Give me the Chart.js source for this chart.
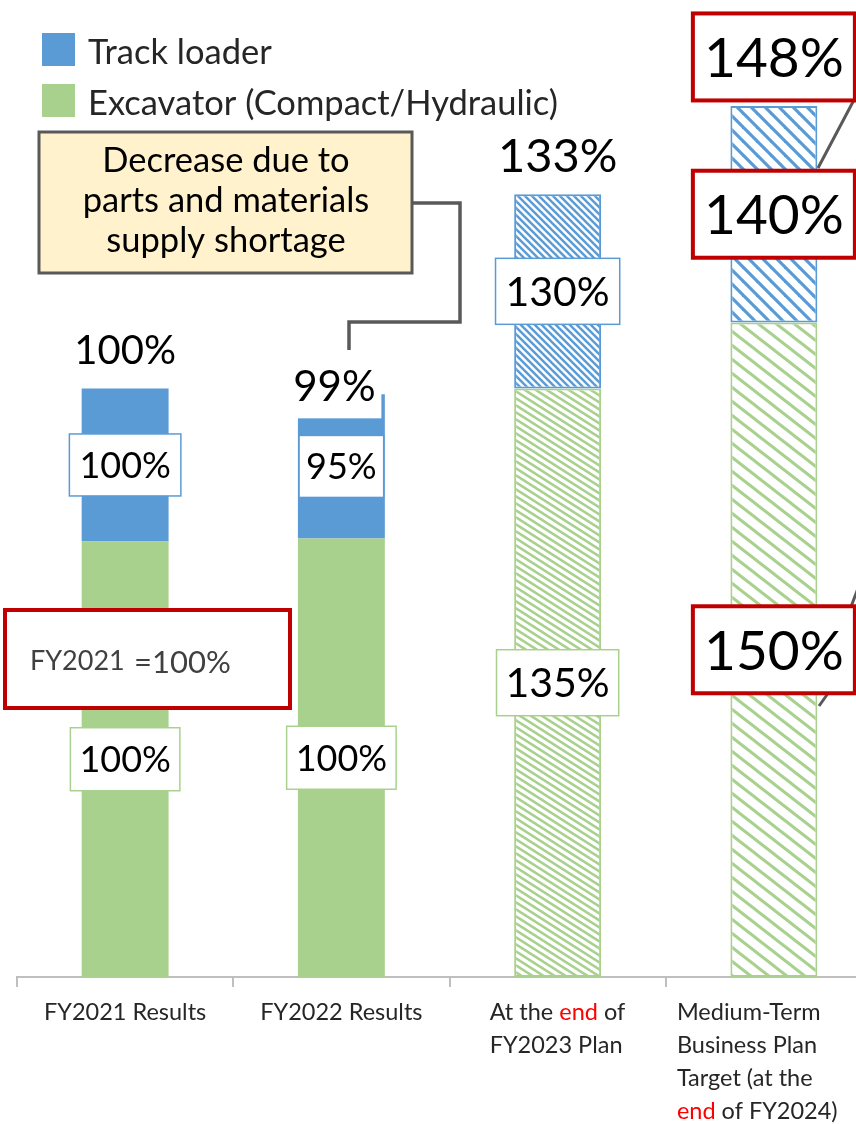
<!DOCTYPE html>
<html>
<head>
<meta charset="utf-8">
<script src="https://cdn.jsdelivr.net/npm/chart.js@4.4.1/dist/chart.umd.min.js"></script>
<style>
  html, body { margin: 0; padding: 0; background: #fff; overflow: hidden; }
  #wrap { width: 856px; height: 1124px; overflow: hidden; }
</style>
</head>
<body>
<div id="wrap"><canvas id="sales" width="882" height="1124"></canvas></div>
<script>
// categories (one entry per line of the axis label)
const categories = [
  ['FY2021 Results'],
  ['FY2022 Results'],
  ['At the end of', 'FY2023 Plan'],
  ['Medium-Term', 'Business Plan', 'Target (at the', 'end of FY2024)']
];
const seriesNames = ['Track loader', 'Excavator (Compact/Hydraulic)'];

// unit index, FY2021 total = 100
const excavator   = [74, 74.5, 100, 111.2];
const trackLoader = [26, 24.5, 33, 36.8];

// growth vs FY2021 for each product
const excavatorGrowth   = ['100%', '100%', '135%', '150%'];
const trackLoaderGrowth = ['100%', '95%', '130%', '140%'];

const BLUE = '#5B9BD5';
const GREEN = '#A9D18E';
const RED = '#C00000';
const LINE = '#595959';
const FONT = 'Lato, "Open Sans", sans-serif';

const canvas = document.getElementById('sales');
const ctx = canvas.getContext('2d');

// diagonal stripes for the plan bars (tile w x h, one stripe per tile)
function hatch(color, w, h, width) {
  const c = document.createElement('canvas');
  c.width = w; c.height = h;
  const g = c.getContext('2d');
  g.fillStyle = '#fff';
  g.fillRect(0, 0, w, h);
  g.strokeStyle = color;
  g.lineWidth = width;
  const k = h / w;
  for (const o of [-w, 0, w]) {
    g.beginPath();
    g.moveTo(o - 2, -2 * k);
    g.lineTo(o + w + 2, h + 2 * k);
    g.stroke();
  }
  return ctx.createPattern(c, 'repeat');
}

function font(size) { return size + 'px ' + FONT; }

// text centred on (cx, cy) using the digit height
function centerText(c, text, cx, cy, size, color) {
  c.font = font(size);
  c.fillStyle = color || '#000';
  c.textAlign = 'center';
  c.textBaseline = 'alphabetic';
  c.fillText(text, cx, cy + size * 0.36);
}

function labelBox(c, text, cx, cy, size, opts) {
  c.font = font(size);
  const w = opts.w || c.measureText(text).width + 2 * (opts.pad || 10);
  const h = opts.h || 64;
  c.fillStyle = '#fff';
  c.fillRect(cx - w / 2, cy - h / 2, w, h);
  if (opts.stroke) {
    c.strokeStyle = opts.stroke;
    c.lineWidth = opts.lw || 1.5;
    c.strokeRect(cx - w / 2, cy - h / 2, w, h);
  }
  centerText(c, text, cx, cy, size);
}

const annotations = {
  id: 'annotations',
  afterDatasetsDraw(chart) {
    const c = chart.ctx;
    const green = chart.getDatasetMeta(0).data;
    const blue = chart.getDatasetMeta(1).data;
    c.save();

    // leader lines from the medium-term callouts
    c.strokeStyle = LINE;
    c.lineWidth = 3;
    c.beginPath();
    c.moveTo(855, 98); c.lineTo(818, 168);
    c.moveTo(819, 706); c.lineTo(866, 640);
    c.moveTo(849, 612); c.lineTo(865, 570);
    c.stroke();

    const segSize = [36, 36, 41, 55];
    for (let i = 0; i < categories.length; i++) {
      const x = blue[i].x;
      const total = Math.round(excavator[i] + trackLoader[i]) + '%';
      const top = blue[i].y;
      const gMid = (green[i].y + green[i].base) / 2;
      const bMid = (blue[i].y + blue[i].base) / 2;

      if (i < 3) {
        labelBox(c, trackLoaderGrowth[i], x, bMid, segSize[i], { stroke: BLUE, pad: i === 1 ? 7 : 10, h: i === 2 ? 66 : 62 });
        labelBox(c, excavatorGrowth[i], x, gMid, segSize[i], { stroke: GREEN, pad: 9, h: i === 2 ? 66 : 63 });
      } else {
        labelBox(c, trackLoaderGrowth[i], x, bMid, segSize[i], { stroke: RED, lw: 4, w: 162, h: 87 });
        labelBox(c, excavatorGrowth[i], x, gMid, segSize[i], { stroke: RED, lw: 4, w: 162, h: 87 });
      }

      // totals above each bar
      if (i === 0) centerText(c, total, x, top - 39, 40);
      if (i === 1) labelBox(c, total, x - 7, top - 8, 42, { w: 94, h: 64 });
      if (i === 2) centerText(c, total, x, top - 39, 47);
      if (i === 3) labelBox(c, total, x, top - 49, 55, { stroke: RED, lw: 4, w: 162, h: 87 });
    }

    // base year note
    c.fillStyle = '#fff';
    c.fillRect(5, 610, 285, 98);
    c.strokeStyle = RED;
    c.lineWidth = 4;
    c.strokeRect(5, 610, 285, 98);
    c.fillStyle = '#404040';
    c.textAlign = 'left';
    c.textBaseline = 'alphabetic';
    c.font = font(27);
    c.fillText('FY2021', 30, 670);
    c.font = font(31);
    c.fillText('=100%', 134, 673);

    // supply shortage callout
    c.strokeStyle = LINE;
    c.lineWidth = 3.5;
    c.beginPath();
    c.moveTo(412, 203); c.lineTo(460, 203); c.lineTo(460, 322);
    c.lineTo(349, 322); c.lineTo(349, 350);
    c.stroke();
    c.fillStyle = '#FFF2CC';
    c.fillRect(39, 132, 373, 141);
    c.lineWidth = 3;
    c.strokeRect(39, 132, 373, 141);
    ['Decrease due to', 'parts and materials', 'supply shortage'].forEach((t, k) => {
      centerText(c, t, 226, 160 + k * 40, 34.5, '#000');
    });

    // legend
    const legendColors = [BLUE, GREEN];
    seriesNames.forEach((name, k) => {
      c.fillStyle = legendColors[k];
      c.fillRect(42, 33 + k * 51, 33, 33);
      c.fillStyle = '#262626';
      c.textAlign = 'left';
      c.font = font(34.5);
      c.fillText(name, 88, 52 + k * 51 + 12);
    });

    // category labels, "end" in red
    const xs = chart.scales.x;
    const align = ['center', 'center', 'left', 'left'];
    const leftOffset = [0, 0, -68, -97];
    c.font = font(23.5);
    c.textBaseline = 'alphabetic';
    categories.forEach((lines, i) => {
      const cx = xs.getPixelForValue(i);
      lines.forEach((line, k) => {
        const y = 1020 + k * 33;
        const w = c.measureText(line).width;
        let x = align[i] === 'center' ? cx - w / 2 : cx + leftOffset[i];
        c.textAlign = 'left';
        line.split(/(end)/).forEach(part => {
          if (!part) return;
          c.fillStyle = part === 'end' ? '#FF0000' : '#262626';
          c.fillText(part, x, y);
          x += c.measureText(part).width;
        });
      });
    });
    c.restore();
  }
};

new Chart(ctx, {
  type: 'bar',
  data: {
    labels: categories,
    datasets: [
      {
        label: seriesNames[1],
        data: excavator,
        backgroundColor: [GREEN, GREEN, hatch(GREEN, 11, 7, 2.6), hatch(GREEN, 18, 14, 3)],
        borderColor: GREEN,
        borderWidth: [0, 0, 2, 2],
        borderSkipped: false
      },
      {
        label: seriesNames[0],
        data: trackLoader,
        backgroundColor: [BLUE, BLUE, hatch(BLUE, 7, 7, 2.5), hatch(BLUE, 14, 14, 3.2)],
        borderColor: BLUE,
        borderWidth: [0, 0, 2, 2],
        borderSkipped: false
      }
    ]
  },
  options: {
    responsive: false,
    animation: false,
    devicePixelRatio: 1,
    layout: { padding: { left: 17, right: 0, top: 0, bottom: 137 } },
    datasets: { bar: { categoryPercentage: 0.402, barPercentage: 1 } },
    plugins: { legend: { display: false }, tooltip: { enabled: false } },
    scales: {
      x: {
        stacked: true,
        offset: true,
        grid: { display: true, offset: true, drawOnChartArea: false, drawTicks: true, tickLength: 10, color: '#BFBFBF', lineWidth: 2 },
        border: { display: true, color: '#BFBFBF', width: 2 },
        ticks: { display: false }
      },
      y: { stacked: true, display: false, min: 0, max: 166 }
    }
  },
  plugins: [annotations]
});
</script>
</body>
</html>
